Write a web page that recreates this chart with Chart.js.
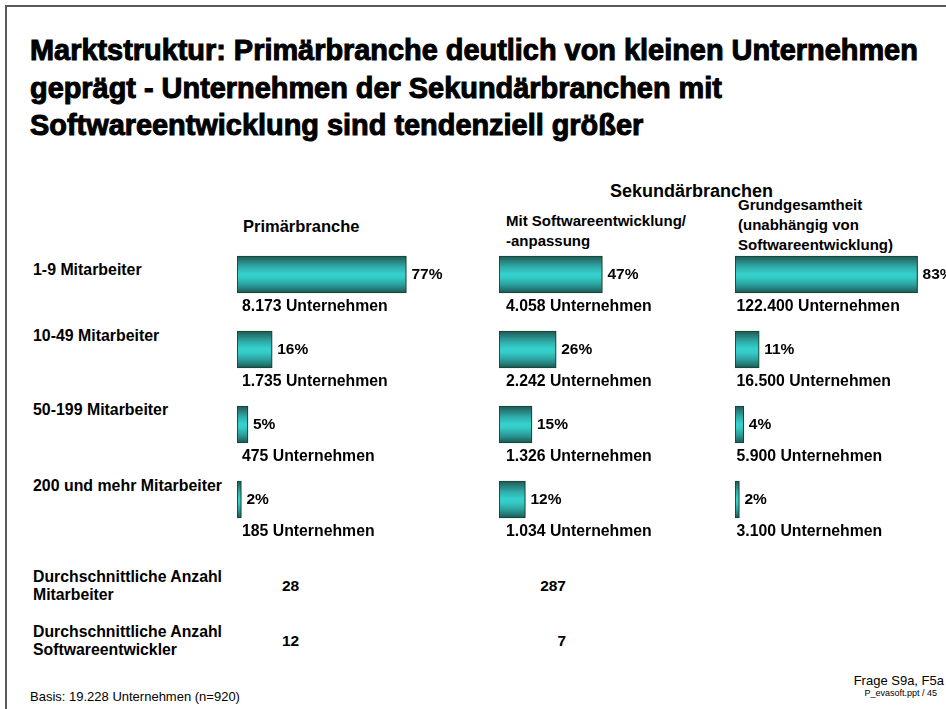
<!DOCTYPE html>
<html>
<head>
<meta charset="utf-8">
<script src="https://cdn.jsdelivr.net/npm/chart.js@4.4.1/dist/chart.umd.min.js"></script>
<style>
  html, body { margin: 0; padding: 0; background: #fff; }
  body { width: 946px; height: 709px; position: relative; overflow: hidden; font-family: "Liberation Sans", Arial, sans-serif; color: #000; }
  .abs { position: absolute; white-space: nowrap; }
  .frame { position: absolute; left: 5px; top: 5px; width: 960px; height: 720px; border-top: 2px solid #5a5a5a; border-left: 2px solid #5a5a5a; }
  .title { left: 30px; top: 32px; font-size: 28.9px; line-height: 37.5px; font-weight: bold; -webkit-text-stroke: 1px #000; }
  .b { font-weight: bold; }
  canvas { position: absolute; }
</style>
</head>
<body>
<div class="frame"></div>
<div class="abs title">Marktstruktur: Primärbranche deutlich von kleinen Unternehmen<br>geprägt - Unternehmen der Sekundärbranchen mit<br>Softwareentwicklung sind tendenziell größer</div>

<div class="abs b" style="left:610px; top:181px; font-size:18px; line-height:20px;">Sekundärbranchen</div>
<div class="abs b" style="left:243px; top:216px; font-size:16.5px; line-height:20px;">Primärbranche</div>
<div class="abs b" style="left:506px; top:211px; font-size:15px; line-height:19.5px;">Mit Softwareentwicklung/<br>-anpassung</div>
<div class="abs b" style="left:738px; top:195px; font-size:15px; line-height:20px;">Grundgesamtheit<br>(unabhängig von<br>Softwareentwicklung)</div>

<div id="rowLabels"></div>
<div id="avgBlock"></div>

<canvas id="c1" width="220" height="300" style="left:237px; top:237px;"></canvas>
<canvas id="c2" width="220" height="300" style="left:499px; top:237px;"></canvas>
<canvas id="c3" width="220" height="300" style="left:734.5px; top:237px;"></canvas>

<div class="abs" style="left:30px; top:689px; font-size:13px; line-height:16px;">Basis: 19.228 Unternehmen (n=920)</div>
<div class="abs" style="right:2px; top:673px; font-size:13px; line-height:16px;">Frage S9a, F5a</div>
<div class="abs" style="right:9px; top:687px; font-size:9px; line-height:12px;">P_evasoft.ppt / 45</div>

<script>
// ---- data ----
const categories = ['1-9 Mitarbeiter', '10-49 Mitarbeiter', '50-199 Mitarbeiter', '200 und mehr Mitarbeiter'];
const primaryShare = [77, 16, 5, 2];
const primaryCount = ['8.173', '1.735', '475', '185'];
const secSoftwareShare = [47, 26, 15, 12];
const secSoftwareCount = ['4.058', '2.242', '1.326', '1.034'];
const secTotalShare = [83, 11, 4, 2];
const secTotalCount = ['122.400', '16.500', '5.900', '3.100'];
const avgLabels = [['Durchschnittliche Anzahl', 'Mitarbeiter'], ['Durchschnittliche Anzahl', 'Softwareentwickler']];
const avgPrimary = [28, 12];
const avgSecSoftware = [287, 7];

// ---- layout helpers (positions only) ----
const rowLabelTops = [261, 327, 401, 477];
const rowLabels = document.getElementById('rowLabels');
categories.forEach((c, i) => {
  const d = document.createElement('div');
  d.className = 'abs b';
  d.style.cssText = `left:33px; top:${rowLabelTops[i]}px; font-size:15.9px; line-height:18px;`;
  d.textContent = c;
  rowLabels.appendChild(d);
});
const avgTops = [568, 623];
const avgBlock = document.getElementById('avgBlock');
avgLabels.forEach((lines, i) => {
  const d = document.createElement('div');
  d.className = 'abs b';
  d.style.cssText = `left:33px; top:${avgTops[i]}px; font-size:15.8px; line-height:17.5px;`;
  d.innerHTML = lines.join('<br>');
  avgBlock.appendChild(d);
  const v1 = document.createElement('div');
  v1.className = 'abs b';
  v1.style.cssText = `left:282px; top:${avgTops[i] + 9}px; font-size:15.5px; line-height:17.5px;`;
  v1.textContent = avgPrimary[i];
  avgBlock.appendChild(v1);
  const v2 = document.createElement('div');
  v2.className = 'abs b';
  v2.style.cssText = `right:${946 - 566}px; top:${avgTops[i] + 9}px; font-size:15.5px; line-height:17.5px;`;
  v2.textContent = avgSecSoftware[i];
  avgBlock.appendChild(v2);
});

const BAR_H = 37;
function barGradient(ctx) {
  const chart = ctx.chart;
  const ys = chart.scales && chart.scales.y;
  if (!ys || ctx.dataIndex === undefined || ctx.type !== 'data') return '#33cccc';
  const yc = ys.getPixelForValue(ctx.dataIndex);
  if (!isFinite(yc)) return '#33cccc';
  const g = chart.ctx.createLinearGradient(0, yc - BAR_H / 2, 0, yc + BAR_H / 2);
  g.addColorStop(0, '#1c5855');
  g.addColorStop(0.12, '#277a78');
  g.addColorStop(0.3, '#2eaeab');
  g.addColorStop(0.48, '#36d0cc');
  g.addColorStop(0.58, '#35ccc8');
  g.addColorStop(0.78, '#2a9e9b');
  g.addColorStop(0.92, '#22716f');
  g.addColorStop(1, '#1a524f');
  return g;
}

const barLabels = {
  id: 'barLabels',
  afterDatasetsDraw(chart, args, opts) {
    const ctx = chart.ctx;
    const meta = chart.getDatasetMeta(0);
    const data = chart.data.datasets[0].data;
    ctx.save();
    ctx.fillStyle = '#000';
    ctx.textBaseline = 'middle';
    ctx.textAlign = 'left';
    meta.data.forEach((el, i) => {
      const p = el.getProps(['x', 'y', 'base', 'height'], true);
      ctx.font = 'bold 15.5px "Liberation Sans", Arial, sans-serif';
      ctx.fillText(data[i] + '%', p.x + 5, p.y + 0.5);
      ctx.font = 'bold 15.8px "Liberation Sans", Arial, sans-serif';
      ctx.fillText(opts.counts[i] + ' Unternehmen', p.base + opts.countOffset, p.y + p.height / 2 + 13.5);
    });
    ctx.restore();
  }
};

function makeChart(id, values, counts, countOffset) {
  return new Chart(document.getElementById(id), {
    type: 'bar',
    data: {
      labels: categories,
      datasets: [{
        data: values,
        backgroundColor: barGradient,
        borderColor: '#16452a',
        borderWidth: 1.2,
        borderSkipped: false,
        barThickness: BAR_H
      }]
    },
    options: {
      indexAxis: 'y',
      responsive: false,
      animation: false,
      devicePixelRatio: 1,
      layout: { padding: 0 },
      scales: {
        x: { display: false, min: 0, max: 100 },
        y: { display: false }
      },
      plugins: {
        legend: { display: false },
        tooltip: { enabled: false },
        barLabels: { counts: counts, countOffset: countOffset }
      }
    },
    plugins: [barLabels]
  });
}

makeChart('c1', primaryShare, primaryCount, 5);
makeChart('c2', secSoftwareShare, secSoftwareCount, 7);
makeChart('c3', secTotalShare, secTotalCount, 1.5);
</script>
</body>
</html>
